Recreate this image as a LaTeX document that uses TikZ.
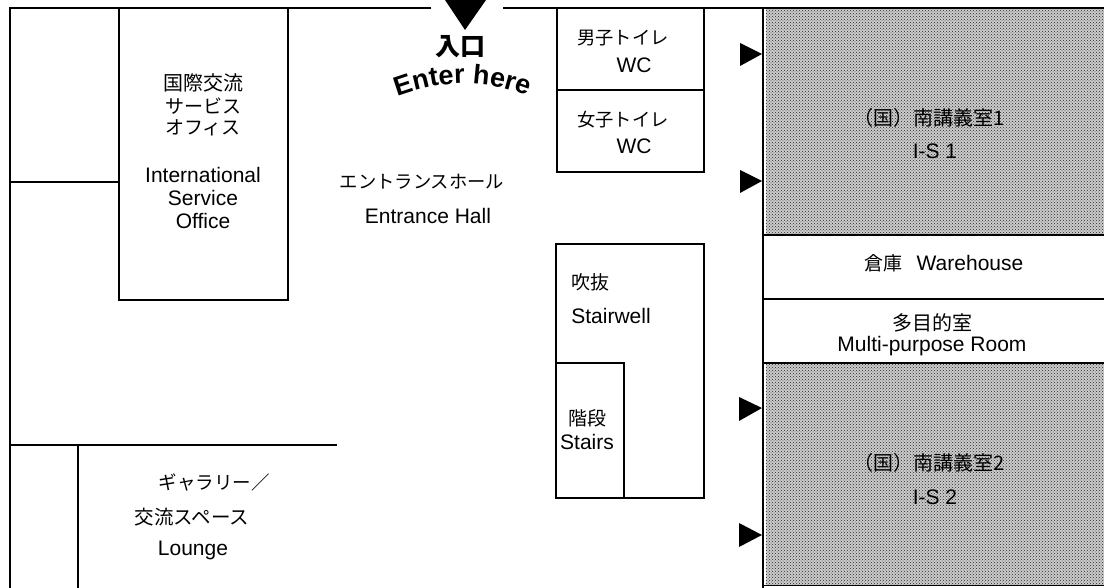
\documentclass[tikz,border=0pt]{standalone}
\usepackage{fontspec}
\setmainfont{Liberation Sans}
\newfontfamily\jp{Noto Sans CJK JP}
\usetikzlibrary{decorations.text,patterns}
\definecolor{lecturegrey}{gray}{0.80}
\tikzset{
  wall/.style={draw=black,line width=1.4pt},
  wallthin/.style={draw=black,line width=1.1pt},
  lecture/.style={fill=lecturegrey,postaction={pattern=crosshatch dots,pattern color=black!85}},
  marker/.style={fill=black},
  en/.style={inner sep=0pt,font=\fontsize{21}{24}\selectfont,text=black},
  ja/.style={inner sep=0pt,font=\jp\fontsize{18.3}{22}\selectfont,text=black},
}
\begin{document}
\begin{tikzpicture}[x=1pt,y=-1pt]
\useasboundingbox (0,0) rectangle (1104,588);
% lecture rooms
\path[lecture] (766,9) rectangle (1104,235);
\path[lecture] (766,364) rectangle (1104,585);
% outer walls
\draw[wall] (1104,8) -- (503,8);
\draw[wall] (431,8) -- (10,8) -- (10,588);
\draw[wall] (763,8) -- (763,588);
\draw[wall] (763,585.5) -- (1104,585.5);
\draw[wall] (763,235) -- (1104,235);
\draw[wall] (763,299) -- (1104,299);
\draw[wall] (763,363) -- (1104,363);
% office and partitions
\draw[wall] (119,8) -- (119,300) -- (288,300) -- (288,8);
\draw[wallthin] (10,182) -- (119,182);
\draw[wall] (10,445) -- (337,445);
\draw[wall] (78,445) -- (78,588);
% toilets
\draw[wall] (557,8) -- (557,172) -- (704,172) -- (704,8);
\draw[wall] (557,90) -- (704,90);
% stairwell
\draw[wall] (556,244) rectangle (704,498);
\draw[wall] (556,363) -- (624,363) -- (624,498);
% entrance and door markers
\fill[marker] (445,0) -- (486,0) -- (465,30) -- cycle;
\fill[marker] (740,43) -- (762,54) -- (740,66) -- cycle;
\fill[marker] (740,170) -- (762,181) -- (740,193) -- cycle;
\fill[marker] (739,397) -- (762,408) -- (739,421) -- cycle;
\fill[marker] (739,523) -- (762,535) -- (739,547) -- cycle;
% labels
\node[ja,font=\jp\bfseries\fontsize{25}{28}\selectfont] (entja) at (460,47) {入口};
\path[postaction={decorate,decoration={text along path,text align=center,
  text={|\bfseries\fontsize{27}{30}\selectfont|Enter here}}}]
  (388,100) .. controls (440,78) and (490,78) .. (537,100);
\node[ja,font=\jp\fontsize{20}{24}\selectfont] (iso1) at (203,83) {国際交流};
\node[ja,font=\jp\fontsize{19}{24}\selectfont] (iso2) at (203,106) {サービス};
\node[ja,font=\jp\fontsize{19}{24}\selectfont] (iso3) at (203,128) {オフィス};
\node[en] (iso4) at (203,175) {International};
\node[en] (iso5) at (203,198) {Service};
\node[en] (iso6) at (203,221) {Office};
\node[ja] (hallja) at (422,182) {エントランスホール};
\node[en] (hallen) at (428,216) {Entrance Hall};
\node[ja] (mwc) at (623,38) {男子トイレ};
\node[en] (mwcen) at (634,65) {WC};
\node[ja] (fwc) at (623,120) {女子トイレ};
\node[en] (fwcen) at (634,146) {WC};
\node[ja,font=\jp\fontsize{19}{22}\selectfont] (well) at (590,282) {吹抜};
\node[en] (wellen) at (611,316) {Stairwell};
\node[ja,font=\jp\fontsize{19}{22}\selectfont] (st) at (587,418) {階段};
\node[en] (sten) at (587,442) {Stairs};
\node[ja,font=\jp\fontsize{18.5}{22}\selectfont] (galja1) at (214,482) {ギャラリー／};
\node[ja,font=\jp\fontsize{19.5}{22}\selectfont] (galja2) at (192,517) {交流スペース};
\node[en] (galen) at (193,550) {Lounge};
\node[ja,font=\jp\fontsize{19}{22}\selectfont] (whja) at (883,263) {倉庫};
\node[en] (when) at (970,263) {Warehouse};
\node[ja,font=\jp\fontsize{20}{24}\selectfont] (mpja) at (932,323) {多目的室};
\node[en] (mpen) at (932,346) {Multi-purpose Room};
\node[ja,font=\jp\fontsize{20}{24}\selectfont] (r1ja) at (929,118) {（国）南講義室1};
\node[en] (r1en) at (935,151) {I-S 1};
\node[ja,font=\jp\fontsize{20}{24}\selectfont] (r2ja) at (929,463) {（国）南講義室2};
\node[en] (r2en) at (935,497) {I-S 2};
\end{tikzpicture}
\end{document}
